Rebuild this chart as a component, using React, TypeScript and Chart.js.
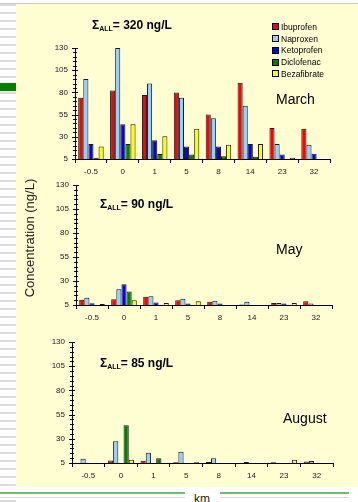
import React, { useEffect, useRef } from "react";
import { Chart, registerables } from "chart.js";
Chart.register(...registerables);

const categories = ["-0.5", "0", "1", "5", "8", "14", "23", "32"];
const drugs = ["Ibuprofen", "Naproxen", "Ketoprofen", "Diclofenac", "Bezafibrate"];
const drugColors = ["#FF0000", "#99CCFF", "#0000FF", "#008000", "#FFFF00"];
const yTicks = [5, 30, 55, 80, 105, 130];

const marchIbuprofen = [74, 82, 77, 80, 55, 91, 40, 39];
const marchNaproxen = [95, 130, 90, 74, 51, 65, 22, 21];
const marchKetoprofen = [22, 44, 26, 19, 19, 22, 10, 11];
const marchDiclofenac = [6.5, 22, 10.5, 10, 8, 7.5, null, null];
const marchBezafibrate = [19, 44, 30.5, 39, 21, 22, 6.5, null];

const mayIbuprofen = [10.5, 11, 13.5, 10, 8.5, 5.5, 7, 9];
const mayNaproxen = [12.5, 21.5, 14, 11.5, 9.5, 8.5, 7, 6.5];
const mayKetoprofen = [6.7, 26.5, 7.5, 6.5, 6.5, null, 6.5, null];
const mayDiclofenac = [null, 19, null, null, null, null, null, null];
const mayBezafibrate = [6, 10, 7, 9, null, null, 7, null];

const augIbuprofen = [null, 7.7, 7.4, 5.8, 6, null, 5.7, 6.5];
const augNaproxen = [9.5, 27.5, 15.5, 16.5, 10, 6, null, 7];
const augKetoprofen = [null, null, null, null, null, null, null, null];
const augDiclofenac = [null, 44, 9.8, null, null, null, null, null];
const augBezafibrate = [null, 8.4, null, 5.8, null, null, 8.4, null];

const months = ["March", "May", "August"];
const totals = ["320", "90", "85"];
const monthSeries = [
  [marchIbuprofen, marchNaproxen, marchKetoprofen, marchDiclofenac, marchBezafibrate],
  [mayIbuprofen, mayNaproxen, mayKetoprofen, mayDiclofenac, mayBezafibrate],
  [augIbuprofen, augNaproxen, augKetoprofen, augDiclofenac, augBezafibrate],
];

// layout of panels: canvas top, canvas height, plot left, right, top, bottom (page coords)
const panels = [
  { top: 0, height: 182, left: 75, right: 330, pTop: 48, pBottom: 159 },
  { top: 170, height: 155, left: 76, right: 332, pTop: 185, pBottom: 305 },
  { top: 330, height: 160, left: 72, right: 333, pTop: 342, pBottom: 463 },
];
const titlePos = [
  { left: 92, top: 19 },
  { left: 100, top: 197.5 },
  { left: 100, top: 356.5 },
];
const monthPos = [
  { left: 276, top: 91.5 },
  { left: 276, top: 242 },
  { left: 283, top: 411 },
];

const FONT = "'Liberation Sans', Arial, sans-serif";
const Y_W = 40;
const X_H = 20;

const minorTicks = {
  id: "minorTicks",
  afterDraw(chart: any) {
    const y = chart.scales.y;
    const ctx = chart.ctx;
    const x0 = chart.chartArea.left;
    ctx.save();
    ctx.strokeStyle = "#000";
    ctx.lineWidth = 1;
    for (let v = 5; v <= 130; v += 5) {
      const py = Math.round(y.getPixelForValue(v)) + 0.5;
      const major = (v - 5) % 25 === 0;
      ctx.beginPath();
      ctx.moveTo(x0 - (major ? 3 : 2), py);
      ctx.lineTo(x0 + (major ? 3 : 2), py);
      ctx.stroke();
    }
    ctx.restore();
  },
};

function Panel({ idx }: { idx: number }) {
  const ref = useRef<HTMLCanvasElement>(null);
  const p = panels[idx];
  useEffect(() => {
    if (!ref.current) return;
    const series = monthSeries[idx];
    const chart = new Chart(ref.current, {
      type: "bar",
      data: {
        labels: categories,
        datasets: drugs.map((d, i) => ({
          label: d,
          data: series[i] as any,
          backgroundColor: drugColors[i],
          borderColor: "#1a1a1a",
          borderWidth: 1,
          borderSkipped: false,
          categoryPercentage: 0.8,
          barPercentage: 1.0,
        })),
      },
      options: {
        responsive: false,
        animation: false,
        devicePixelRatio: 1,
        layout: {
          padding: {
            left: p.left - Y_W,
            right: 358 - p.right,
            top: p.pTop - p.top,
            bottom: p.top + p.height - p.pBottom - X_H,
          },
        },
        plugins: { legend: { display: false }, tooltip: { enabled: false }, title: { display: false } },
        scales: {
          x: {
            grid: { offset: true, drawOnChartArea: false, drawTicks: true, tickLength: 4, color: "#000" },
            border: { color: "#000", width: 1 },
            ticks: { color: "#222", font: { family: FONT, size: 8 }, padding: 4, maxRotation: 0 },
            afterFit: (s: any) => { s.height = X_H; },
          },
          y: {
            min: 5,
            max: 130,
            afterBuildTicks: (s: any) => { s.ticks = yTicks.map((v) => ({ value: v })); },
            grid: { drawOnChartArea: false, drawTicks: false },
            border: { color: "#000", width: 1 },
            ticks: { color: "#222", font: { family: FONT, size: 8 }, padding: 7 },
            afterFit: (s: any) => { s.width = Y_W; },
          },
        },
      },
      plugins: [minorTicks],
    } as any);
    return () => chart.destroy();
  }, [idx]);
  return (
    <canvas
      ref={ref}
      width={358}
      height={p.height}
      style={{ position: "absolute", left: 0, top: p.top, width: 358, height: p.height }}
    />
  );
}

export default function App() {
  return (
    <div style={{ position: "absolute", left: 0, top: 0, width: 358, height: 502, background: "#fff", overflow: "hidden", fontFamily: FONT }}>
      {/* left striped margin */}
      <div style={{ position: "absolute", left: 0, top: 4, width: 16, height: 498, background: "repeating-linear-gradient(to bottom, #dcdcdc 0px, #dcdcdc 2px, #ffffff 2px, #ffffff 8px)" }} />
      <div style={{ position: "absolute", left: 0, top: 83, width: 16, height: 8, background: "#008000" }} />
      {/* top line */}
      <div style={{ position: "absolute", left: 0, top: 3, width: 358, height: 1, background: "#cccccc" }} />
      {/* yellow area */}
      <div style={{ position: "absolute", left: 16, top: 4, width: 342, height: 483, background: "#FFFDD2" }} />
      {/* bottom lines */}
      <div style={{ position: "absolute", left: 0, top: 492, width: 185, height: 2, background: "#6DBE6D" }} />
      <div style={{ position: "absolute", left: 220, top: 492, width: 129, height: 2, background: "#6DBE6D" }} />
      <div style={{ position: "absolute", left: 0, top: 497, width: 349, height: 1, background: "#dddddd" }} />
      <div style={{ position: "absolute", left: 185, top: 491, width: 35, height: 11, background: "#fff" }} />
      <div style={{ position: "absolute", left: 186, top: 493, width: 32, textAlign: "center", fontSize: 12, lineHeight: "12px", color: "#222", whiteSpace: "nowrap" }}>km</div>

      {panels.map((_, i) => <Panel key={i} idx={i} />)}

      {/* titles */}
      {titlePos.map((t, i) => (
        <div key={"t" + i} style={{ position: "absolute", left: t.left, top: t.top, fontSize: 12, lineHeight: "12px", fontWeight: "bold", color: "#000", whiteSpace: "nowrap" }}>
          Σ<span style={{ fontSize: 7, position: "relative", top: 2 }}>ALL</span>= {totals[i]} ng/L
        </div>
      ))}
      {/* month labels */}
      {monthPos.map((m, i) => (
        <div key={"m" + i} style={{ position: "absolute", left: m.left, top: m.top, fontSize: 14, lineHeight: "14px", color: "#000", whiteSpace: "nowrap" }}>
          {months[i]}
        </div>
      ))}
      {/* legend */}
      {drugs.map((d, i) => (
        <div key={"l" + i} style={{ position: "absolute", left: 272, top: 26.7 + i * 11.8 - 5, height: 10, display: "flex", alignItems: "center", whiteSpace: "nowrap" }}>
          <div style={{ width: 5, height: 5, background: drugColors[i], border: "1px solid #000", marginRight: 2 }} />
          <span style={{ fontSize: 8.5, lineHeight: "10px", color: "#000" }}>{d}</span>
        </div>
      ))}
      {/* y axis title */}
      <div style={{ position: "absolute", left: -40, top: 231, width: 140, height: 14, transform: "rotate(-90deg)", textAlign: "center", fontSize: 13, lineHeight: "14px", fontWeight: 400, color: "#222", whiteSpace: "nowrap" }}>
        Concentration (ng/L)
      </div>
    </div>
  );
}
